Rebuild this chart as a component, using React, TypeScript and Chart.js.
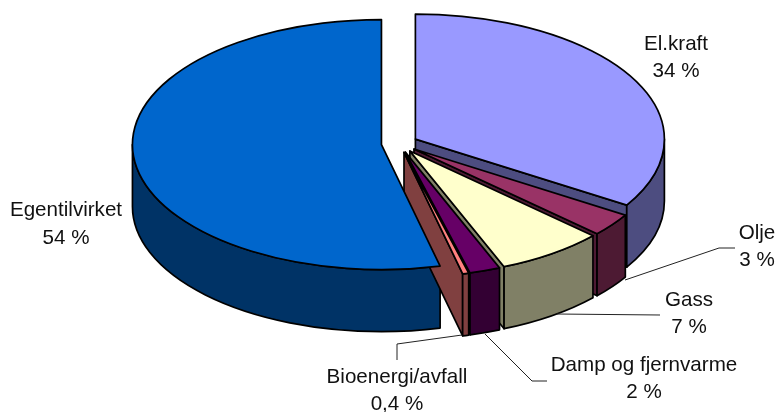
import React, { useEffect, useRef } from "react";
import { Chart, registerables } from "chart.js";

Chart.register(...registerables);

const categories = ["El.kraft", "Olje", "Gass", "Damp og fjernvarme", "Bioenergi/avfall", "Egentilvirket"];
const shareValues = [34, 3, 7, 2, 0.4, 54];
const shareLabels = ["34 %", "3 %", "7 %", "2 %", "0,4 %", "54 %"];
const topColors = ["#9999FF", "#993366", "#FFFFCC", "#660066", "#FF8080", "#0066CC"];
const wallColors = ["#4D4D80", "#4D1A33", "#808066", "#330033", "#804040", "#003366"];

const CX = 399.5;
const CY = 143.5;
const RX = 249;
const RY = 125;
const DEPTH = 62;
const EXPLODE = 0.073;
const OUTLINE = 1.7;
const FONT = '20.6px "Liberation Sans", Arial, sans-serif';

const labelCenters = [
  [676, 44, 71],
  [757, 233, 260],
  [689, 300, 327],
  [644, 365, 392],
  [397, 377, 404],
  [66, 210, 238],
];

const leaders = [
  [[735, 248], [719, 248], [625, 280]],
  [[660, 315], [557, 314]],
  [[547, 381], [532, 381], [485, 334]],
  [[397, 360], [397, 344], [462, 335]],
];

const pie3d = {
  id: "pie3d",
  beforeDatasetsDraw(chart: any) {
    const ctx = chart.ctx;
    const arcs = chart.getDatasetMeta(0).data;
    const geo = arcs.map((arc: any) => {
      const mid = (arc.startAngle + arc.endAngle) / 2;
      return {
        arc,
        s: arc.startAngle,
        e: arc.endAngle,
        cx: CX + EXPLODE * RX * Math.cos(mid),
        cy: CY + EXPLODE * RY * Math.sin(mid),
      };
    });
    ctx.save();
    ctx.lineWidth = OUTLINE;
    ctx.strokeStyle = "#000";
    ctx.lineJoin = "round";

    const face = (g: any, a: number, color: string) => {
      const px = g.cx + RX * Math.cos(a);
      const py = g.cy + RY * Math.sin(a);
      ctx.beginPath();
      ctx.moveTo(g.cx, g.cy);
      ctx.lineTo(px, py);
      ctx.lineTo(px, py + DEPTH);
      ctx.lineTo(g.cx, g.cy + DEPTH);
      ctx.closePath();
      ctx.fillStyle = color;
      ctx.fill();
      ctx.stroke();
    };

    // walls, back to front
    [5, 0, 1, 2, 3, 4].forEach((i) => {
      const g = geo[i];
      const color = wallColors[i];
      if (Math.cos(g.s) < -1e-6) face(g, g.s, color);
      if (Math.cos(g.e) > 1e-6) face(g, g.e, color);
      const a0 = Math.max(g.s, 0);
      const a1 = Math.min(g.e, Math.PI);
      if (a1 > a0) {
        ctx.beginPath();
        ctx.ellipse(g.cx, g.cy, RX, RY, 0, a0, a1, false);
        ctx.ellipse(g.cx, g.cy + DEPTH, RX, RY, 0, a1, a0, true);
        ctx.closePath();
        ctx.fillStyle = color;
        ctx.fill();
        ctx.stroke();
      }
    });

    // tops, drawn by the library's arc elements under an elliptical transform
    geo.forEach((g: any) => {
      const R = g.arc.outerRadius;
      ctx.save();
      ctx.translate(g.cx, g.cy);
      ctx.scale(RX / R, RY / R);
      ctx.translate(-g.arc.x, -g.arc.y);
      g.arc.draw(ctx);
      ctx.restore();
      ctx.beginPath();
      ctx.moveTo(g.cx, g.cy);
      ctx.ellipse(g.cx, g.cy, RX, RY, 0, g.s, g.e, false);
      ctx.closePath();
      ctx.stroke();
    });
    ctx.restore();
    return false;
  },
  afterDraw(chart: any) {
    const ctx = chart.ctx;
    ctx.save();
    ctx.strokeStyle = "#222";
    ctx.lineWidth = 1;
    leaders.forEach((pts) => {
      ctx.beginPath();
      pts.forEach(([x, y], i) => (i ? ctx.lineTo(x, y) : ctx.moveTo(x, y)));
      ctx.stroke();
    });
    ctx.fillStyle = "#111";
    ctx.font = FONT;
    ctx.textAlign = "center";
    ctx.textBaseline = "middle";
    categories.forEach((name, i) => {
      const [x, y1, y2] = labelCenters[i];
      ctx.fillText(name, x, y1);
      ctx.fillText(shareLabels[i], x, y2);
    });
    ctx.restore();
  },
};

export default function App() {
  const ref = useRef<HTMLCanvasElement>(null);
  useEffect(() => {
    document.body.style.margin = "0";
    const chart = new Chart(ref.current!, {
      type: "pie",
      data: {
        labels: categories,
        datasets: [{ data: shareValues, backgroundColor: topColors, borderWidth: 0 }],
      },
      options: {
        responsive: false,
        animation: false,
        layout: { padding: 0 },
        plugins: { legend: { display: false }, tooltip: { enabled: false } },
      },
      plugins: [pie3d],
    } as any);
    return () => chart.destroy();
  }, []);
  return <canvas ref={ref} width={776} height={412} style={{ display: "block" }} />;
}
